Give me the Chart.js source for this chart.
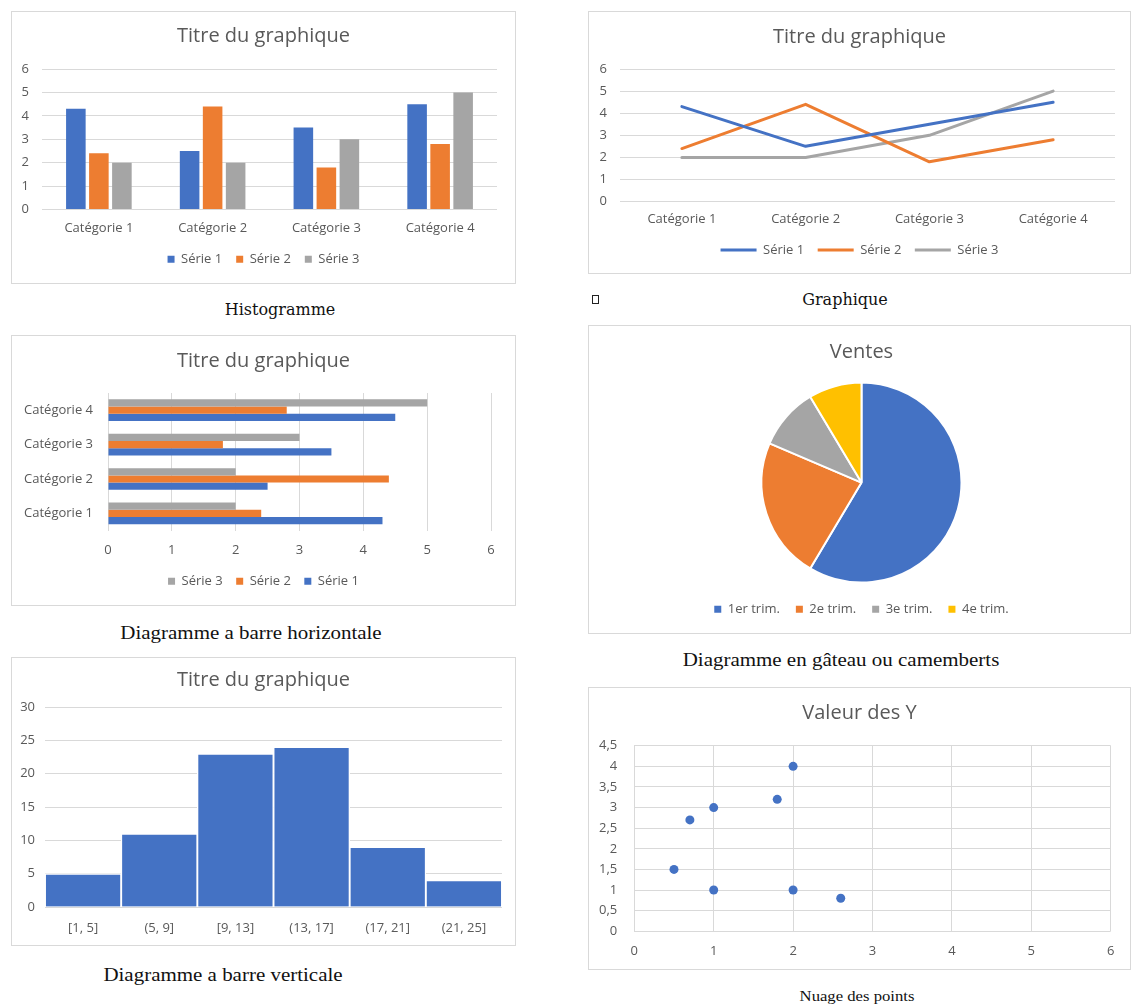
<!DOCTYPE html>
<html lang="fr">
<head>
<meta charset="utf-8">
<title>Types de graphiques</title>
<script src="https://cdn.jsdelivr.net/npm/chart.js@4.4.1/dist/chart.umd.min.js"></script>
<style>
  html, body { margin: 0; padding: 0; background: #fff; }
  body { position: relative; width: 1131px; height: 1007px; overflow: hidden; }
  .panel { position: absolute; box-sizing: border-box; border: 1px solid #d9d9d9; background: #fff; }
  .panel canvas { position: absolute; left: 0; top: 0; }
  .caption { position: absolute; white-space: nowrap; color: #111; transform: translate(-50%, -50%) scaleX(1.075); font-family: "Liberation Serif", "Times New Roman", serif; font-size: 19.5px; line-height: 1; }
  .caption.slab { font-family: "DejaVu Serif", serif; font-size: 16px; transform: translate(-50%, -50%); }
  .caption.small { font-size: 15.5px; }
  .glyphbox { position: absolute; left: 592px; top: 295px; width: 7px; height: 9px; box-sizing: border-box; border: 1px solid #222; }
</style>
</head>
<body>

<div class="panel" style="left:11px;top:11px;width:505px;height:273px"><canvas id="colonnes" width="503" height="271"></canvas></div>
<div class="caption slab" style="left:280px;top:310px">Histogramme</div>

<div class="panel" style="left:588px;top:11px;width:543px;height:263px"><canvas id="courbes" width="541" height="261"></canvas></div>
<div class="glyphbox"></div>
<div class="caption slab" style="left:845px;top:300px">Graphique</div>

<div class="panel" style="left:11px;top:335px;width:505px;height:271px"><canvas id="barres" width="503" height="269"></canvas></div>
<div class="caption" style="left:251px;top:633px">Diagramme a barre horizontale</div>

<div class="panel" style="left:588px;top:325px;width:543px;height:309px"><canvas id="secteurs" width="541" height="307"></canvas></div>
<div class="caption" style="left:841px;top:660px">Diagramme en gâteau ou camemberts</div>

<div class="panel" style="left:11px;top:657px;width:505px;height:289px"><canvas id="histo" width="503" height="287"></canvas></div>
<div class="caption" style="left:223px;top:975px">Diagramme a barre verticale</div>

<div class="panel" style="left:588px;top:687px;width:543px;height:283px"><canvas id="nuage" width="541" height="281"></canvas></div>
<div class="caption small" style="left:857px;top:996px">Nuage des points</div>

<script>
// ---- Données ----
const categories = ['Catégorie 1', 'Catégorie 2', 'Catégorie 3', 'Catégorie 4'];
const serie1 = [4.3, 2.5, 3.5, 4.5];
const serie2 = [2.4, 4.4, 1.8, 2.8];
const serie3 = [2, 2, 3, 5];
const seriesNames = ['Série 1', 'Série 2', 'Série 3'];

const trimestres = ['1er trim.', '2e trim.', '3e trim.', '4e trim.'];
const ventes = [8.2, 3.2, 1.4, 1.2];

const classes = ['[1, 5]', '(5, 9]', '[9, 13]', '(13, 17]', '(17, 21]', '(21, 25]'];
const effectifs = [5, 11, 23, 24, 9, 4];

const nuageX = [0.5, 0.7, 1, 1, 1.8, 2, 2, 2.6];
const nuageY = [1.5, 2.7, 3, 1, 3.2, 4, 1, 0.8];

const titreGraphique = 'Titre du graphique';

// ---- Style Office ----
const BLEU = '#4472C4', ORANGE = '#ED7D31', GRIS = '#A5A5A5', JAUNE = '#FFC000';
const GRILLE = '#d9d9d9';
const TEXTE = '#595959';

Chart.defaults.font.family = '"Open Sans", "Noto Sans", sans-serif';
Chart.defaults.font.size = 13;
Chart.defaults.color = TEXTE;
Chart.defaults.animation = false;
Chart.defaults.responsive = false;
Chart.defaults.plugins.tooltip.enabled = false;

// Axis widths are fixed below; let tick labels spill into the layout padding instead of being cut.
Chart.Scale.prototype._computeLabelArea = function () { return undefined; };

function titre(text, top, bottom) {
  return { display: true, text, color: TEXTE, font: { size: 20, weight: 'normal' }, padding: { top, bottom } };
}
function legendeCarres(padding, source) {
  const base = source || Chart.defaults.plugins.legend.labels.generateLabels;
  return {
    display: true, position: 'bottom',
    labels: {
      boxWidth: 7, boxHeight: 7, padding, font: { size: 13 }, color: TEXTE,
      generateLabels(chart) {
        return base(chart).map(l => ({ ...l, lineWidth: 0 }));
      }
    }
  };
}
function fixWidth(w) { return s => { s.width = w; }; }
function fixHeight(h) { return s => { s.height = h; }; }
const sansGrille = { display: false, drawTicks: false };

// ---- Histogramme (colonnes groupées) ----
new Chart(document.getElementById('colonnes'), {
  type: 'bar',
  data: {
    labels: categories,
    datasets: [
      { label: seriesNames[0], data: serie1, backgroundColor: BLEU },
      { label: seriesNames[1], data: serie2, backgroundColor: ORANGE },
      { label: seriesNames[2], data: serie3, backgroundColor: GRIS }
    ]
  },
  options: {
    layout: { padding: { left: 18, right: 18, top: 0, bottom: 7.2 } },
    datasets: { bar: { categoryPercentage: 0.607, barPercentage: 0.85 } },
    plugins: { title: titre(titreGraphique, 12.7, 20.3), legend: legendeCarres(14) },
    scales: {
      x: { grid: sansGrille, border: { display: false },
           ticks: { padding: 11.2, maxRotation: 0, autoSkip: false }, afterFit: fixHeight(29.2) },
      y: { min: 0, max: 6, ticks: { stepSize: 1, padding: 13 },
           grid: { color: GRILLE, drawTicks: false }, border: { display: false }, afterFit: fixWidth(12) }
    }
  }
});

// ---- Graphique (courbes) ----
new Chart(document.getElementById('courbes'), {
  type: 'line',
  data: {
    labels: categories,
    datasets: [
      { label: seriesNames[0], data: serie1, borderColor: BLEU, backgroundColor: BLEU },
      { label: seriesNames[1], data: serie2, borderColor: ORANGE, backgroundColor: ORANGE },
      { label: seriesNames[2], data: serie3, borderColor: GRIS, backgroundColor: GRIS }
    ]
  },
  options: {
    layout: { padding: { left: 15, right: 15, top: 0, bottom: 6.5 } },
    datasets: { line: { borderWidth: 3, pointRadius: 0, tension: 0, borderCapStyle: 'round', borderJoinStyle: 'round' } },
    plugins: {
      title: titre(titreGraphique, 13.3, 19.7),
      legend: {
        position: 'bottom',
        labels: {
          boxWidth: 36, boxHeight: 3, padding: 13.5, font: { size: 13 }, color: TEXTE,
          generateLabels(chart) {
            return Chart.defaults.plugins.legend.labels.generateLabels(chart)
              .map(l => ({ ...l, lineWidth: 0, fillStyle: l.strokeStyle }));
          }
        }
      }
    },
    scales: {
      x: { offset: true, grid: sansGrille, border: { display: false },
           ticks: { padding: 10.2, maxRotation: 0, autoSkip: false }, afterFit: fixHeight(28.4) },
      y: { min: 0, max: 6, ticks: { stepSize: 1, padding: 13 },
           grid: { color: GRILLE, drawTicks: false }, border: { display: false }, afterFit: fixWidth(16) }
    }
  }
});

// ---- Diagramme à barres horizontales ----
new Chart(document.getElementById('barres'), {
  type: 'bar',
  data: {
    labels: categories,
    datasets: [
      { label: seriesNames[2], data: serie3, backgroundColor: GRIS },
      { label: seriesNames[1], data: serie2, backgroundColor: ORANGE },
      { label: seriesNames[0], data: serie1, backgroundColor: BLEU }
    ]
  },
  options: {
    indexAxis: 'y',
    layout: { padding: { left: 24, right: 24, top: 0, bottom: 7.2 } },
    datasets: { bar: { categoryPercentage: 0.63, barPercentage: 1 } },
    plugins: { title: titre(titreGraphique, 13, 20), legend: legendeCarres(13.5) },
    scales: {
      x: { min: 0, max: 6, ticks: { stepSize: 1, padding: 12.2 },
           grid: { color: GRILLE, drawTicks: false }, border: { display: false }, afterFit: fixHeight(30.7) },
      y: { reverse: true, grid: sansGrille, border: { display: false },
           ticks: { padding: 15, autoSkip: false }, afterFit: fixWidth(72) }
    }
  }
});

// ---- Diagramme en secteurs ----
new Chart(document.getElementById('secteurs'), {
  type: 'pie',
  data: {
    labels: trimestres,
    datasets: [{ data: ventes, backgroundColor: [BLEU, ORANGE, GRIS, JAUNE], borderColor: '#fff', borderWidth: 2, radius: 100 }]
  },
  options: {
    layout: { padding: { left: 4, right: 0, top: 0, bottom: 7.2 } },
    plugins: {
      title: titre('Ventes', 14, 14.4),
      legend: legendeCarres(16, Chart.overrides.pie.plugins.legend.labels.generateLabels)
    }
  }
});

// ---- Diagramme à barres verticales (classes) ----
new Chart(document.getElementById('histo'), {
  type: 'bar',
  data: {
    labels: classes,
    datasets: [{ label: 'Effectif', data: effectifs, backgroundColor: BLEU, borderColor: '#fff', borderWidth: 1.3, borderSkipped: 'bottom' }]
  },
  options: {
    layout: { padding: { left: 13, right: 13, top: 0, bottom: 9.2 } },
    datasets: { bar: { categoryPercentage: 1, barPercentage: 1 } },
    plugins: { title: titre(titreGraphique, 10, 15), legend: { display: false } },
    scales: {
      x: { grid: sansGrille, border: { display: false },
           ticks: { padding: 13.2, maxRotation: 0, autoSkip: false }, afterFit: fixHeight(28.8) },
      y: { min: 0, max: 30, ticks: { stepSize: 5, padding: 10 },
           grid: { color: GRILLE, drawTicks: false }, border: { display: false }, afterFit: fixWidth(20) }
    }
  }
});

// ---- Nuage de points ----
const virgule = v => String(v).replace('.', ',');
new Chart(document.getElementById('nuage'), {
  type: 'scatter',
  data: {
    datasets: [{
      label: 'Valeur des Y',
      data: nuageX.map((x, i) => ({ x, y: nuageY[i] })),
      backgroundColor: BLEU, borderColor: BLEU, pointRadius: 4.5, borderWidth: 0
    }]
  },
  options: {
    layout: { padding: { left: 19.3, right: 19.3, top: 0, bottom: 9.5 } },
    plugins: { title: titre('Valeur des Y', 13.7, 20), legend: { display: false } },
    scales: {
      x: { type: 'linear', min: 0, max: 6, ticks: { stepSize: 1, padding: 12.6, callback: virgule },
           grid: { color: GRILLE, drawTicks: false }, border: { display: false }, afterFit: fixHeight(28.2) },
      y: { min: 0, max: 4.5, ticks: { stepSize: 0.5, padding: 17, callback: virgule },
           grid: { color: GRILLE, drawTicks: false }, border: { display: false }, afterFit: fixWidth(26) }
    }
  }
});
</script>
</body>
</html>
